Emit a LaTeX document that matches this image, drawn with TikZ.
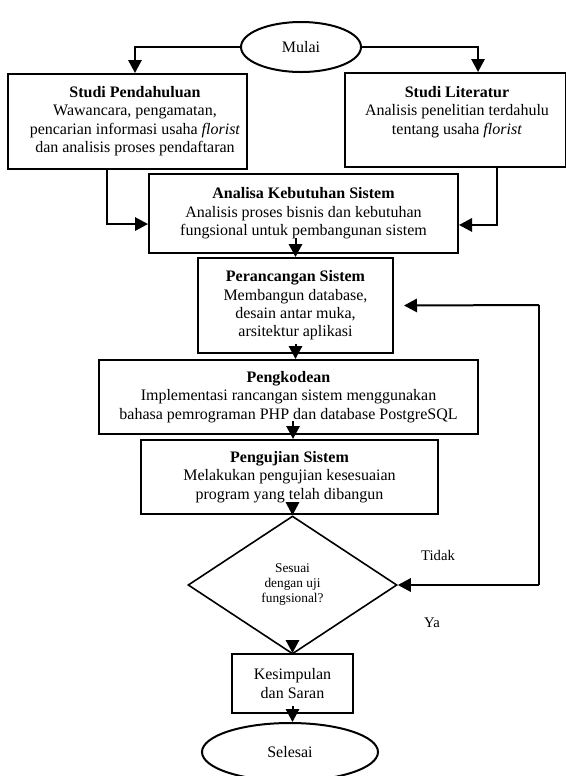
\documentclass[tikz,border=0pt]{standalone}
\usepackage{fontspec}
\setmainfont{Liberation Serif}
\usetikzlibrary{arrows.meta,shapes.geometric,positioning}

\begin{document}
\begin{tikzpicture}[x=0.75pt,y=-0.75pt]
\tikzset{
  flownode/.style={draw=black,line width=1.5pt,align=center,inner sep=1pt,font=\fontsize{12pt}{13.8pt}\selectfont},
  processbox/.style={flownode,rectangle},
  terminal/.style={flownode,ellipse},
  decision/.style={flownode,diamond,inner sep=0pt,line width=1.2pt,font=\fontsize{10pt}{11.25pt}\selectfont},
  plaintext/.style={align=center,inner sep=0pt,font=\fontsize{12pt}{13.8pt}\selectfont},
  flowedge/.style={draw=black,line width=1.5pt,line join=miter},
  directed/.style={flowedge,-{Triangle[length=9.75pt,width=10pt]}}
}
\useasboundingbox (0,0) rectangle (566,776);
% nodes
\node[terminal,minimum width=90pt,minimum height=37.5pt] (n_mulai) at (301,47) {Mulai};
\node[processbox,minimum width=179.25pt,minimum height=71.25pt] (n_pendahuluan) at (127.5,121.5) {};
\node[plaintext] (n_pendahuluantxt) at (135,121) {\textbf{Studi Pendahuluan}\\Wawancara, pengamatan,\\pencarian informasi usaha \textit{florist}\\dan analisis proses pendaftaran};
\node[processbox,minimum width=165.75pt,minimum height=70.5pt] (n_literatur) at (455.5,120) {};
\node[plaintext] (n_literaturtxt) at (457,112) {\textbf{Studi Literatur}\\Analisis penelitian terdahulu\\tentang usaha \textit{florist}};
\node[processbox,minimum width=231.75pt,minimum height=59.25pt] (n_analisa) at (303.5,213.5) {\textbf{Analisa Kebutuhan Sistem}\\Analisis proses bisnis dan kebutuhan\\fungsional untuk pembangunan sistem};
\node[processbox,minimum width=146.25pt,minimum height=71.25pt] (n_perancangan) at (295.5,305.5) {\textbf{Perancangan Sistem}\\Membangun database,\\desain antar muka,\\arsitektur aplikasi};
\node[processbox,minimum width=284.25pt,minimum height=55.5pt] (n_pengkodean) at (288.5,397) {\textbf{Pengkodean}\\Implementasi rancangan sistem menggunakan\\bahasa pemrograman PHP dan database PostgreSQL};
\node[processbox,minimum width=222.75pt,minimum height=55.5pt] (n_pengujian) at (289.5,477) {\textbf{Pengujian Sistem}\\Melakukan pengujian kesesuaian\\program yang telah dibangun};
\node[decision,minimum width=156.75pt,minimum height=103.5pt] (n_keputusan) at (292.5,585) {Sesuai\\dengan uji\\fungsional?};
\node[processbox,minimum width=90.75pt,minimum height=44.25pt] (n_kesimpulan) at (292.5,683.5) {Kesimpulan\\dan Saran};
\node[terminal,minimum width=132pt,minimum height=43.5pt] (n_selesai) at (290,752) {Selesai};
\node[plaintext,font=\fontsize{11pt}{13pt}\selectfont] (n_tidak) at (438,555) {Tidak};
\node[plaintext,font=\fontsize{11pt}{13pt}\selectfont] (n_ya) at (432,623) {Ya};
\coordinate (c_balikatas) at (539,305);
\coordinate (c_balikbawah) at (539,585);
% connectors
\draw[directed] (n_mulai.west) -| ([xshift=5.6pt]n_pendahuluan.north);
\draw[directed] (n_mulai.east) -| ([xshift=16.9pt]n_literatur.north);
\draw[directed] ([xshift=-15.4pt]n_pendahuluan.south) |- ([yshift=-7.9pt]n_analisa.west);
\draw[directed] ([xshift=31.1pt]n_literatur.south) |- ([yshift=-8.6pt]n_analisa.east);
\draw[directed] ([yshift=12pt]n_analisa.south -| n_perancangan.north) -- (n_perancangan.north);
\draw[directed] ([yshift=7.5pt]n_perancangan.south) -- (n_perancangan.south |- n_pengkodean.north);
\draw[directed] ([yshift=10.5pt,xshift=3.4pt]n_pengkodean.south) -- ([xshift=3.4pt]n_pengkodean.south |- n_pengujian.north);
\draw[directed] ([yshift=5.25pt]n_pengujian.south -| n_keputusan.north) -- (n_keputusan.north);
\draw[directed] ([yshift=10.5pt]n_keputusan.south) -- (n_kesimpulan.north);
\draw[directed] ([yshift=6pt]n_kesimpulan.south) -- (n_kesimpulan.south |- n_selesai.north);
\draw[directed] (c_balikatas) -- ([xshift=7.5pt]n_perancangan.east);
\draw[flowedge] (c_balikatas) -- (c_balikbawah);
\draw[directed] (c_balikbawah) -- (n_keputusan.east);
\end{tikzpicture}
\end{document}
